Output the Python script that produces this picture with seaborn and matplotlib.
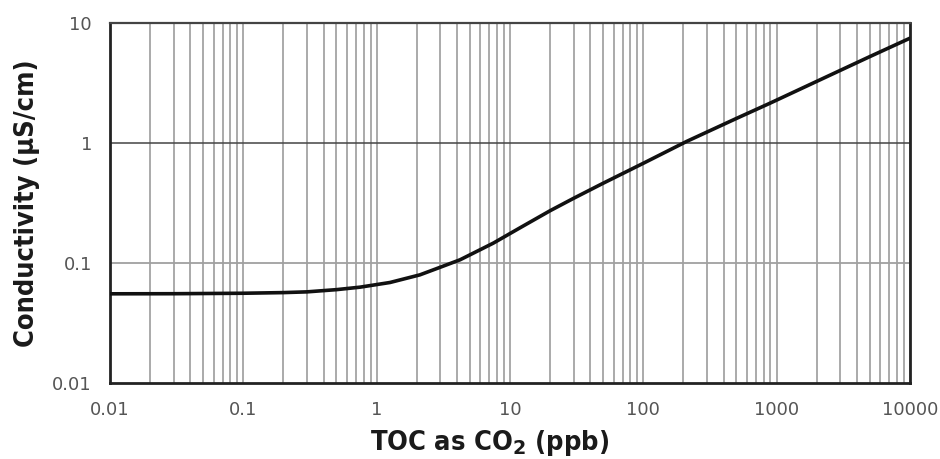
import matplotlib
matplotlib.use("Agg")
import matplotlib.pyplot as plt
import numpy as np
import pandas as pd
import seaborn as sns
from matplotlib.ticker import FixedLocator, LogLocator, NullFormatter


# 1. Donnees
toc_ppb = [0.01, 0.03, 0.1, 0.2, 0.3, 0.5, 0.75, 1.26, 2.11, 3, 4.22, 7.5,
           11.9, 20, 30, 50, 100, 212, 500, 890, 2110, 5000, 10000]
conductivity = [0.0552, 0.0553, 0.0558, 0.0565, 0.0573, 0.0598, 0.0627, 0.0686,
                0.0794, 0.0919, 0.106, 0.146, 0.196, 0.272, 0.345, 0.461,
                0.676, 1.03, 1.6, 2.14, 3.35, 5.24, 7.46]

x_ticks = [0.01, 0.1, 1, 10, 100, 1000, 10000]
x_tick_labels = ["0.01", "0.1", "1", "10", "100", "1000", "10000"]
y_ticks = [0.01, 0.1, 1, 10]
y_tick_labels = ["0.01", "0.1", "1", "10"]

df = pd.DataFrame({"toc": toc_ppb, "cond": conductivity})


# 2. Style
sns.set_style("white")
plt.rcParams["font.family"] = ["DejaVu Sans"]
plt.rcParams["mathtext.fontset"] = "custom"
plt.rcParams["mathtext.rm"] = "DejaVu Sans:bold"
plt.rcParams["mathtext.default"] = "rm"

label_font = {"family": ["DejaVu Sans"], "stretch": "condensed",
              "weight": "bold", "size": 19.5, "color": "#1a1a1a"}


# 3. Figure
fig = plt.figure(figsize=(9.4, 4.59), dpi=100)
ax = fig.add_axes([0.117, 0.166, 0.851, 0.784])

ax.set_xscale("log")
ax.set_yscale("log")
ax.set_xlim(0.01, 10000)
ax.set_ylim(0.01, 10)

# grille verticale : toutes les lignes log (majeures + mineures)
ax.xaxis.set_minor_locator(LogLocator(base=10, subs=np.arange(2, 10), numticks=100))
ax.xaxis.set_minor_formatter(NullFormatter())
ax.grid(True, which="both", axis="x", color="#939393", linewidth=1.1)
ax.yaxis.set_minor_locator(FixedLocator([]))
ax.axhline(1, color="#444444", linewidth=1.1, zorder=1)
ax.axhline(0.1, color="#a0a0a0", linewidth=1.3, zorder=1)

sns.lineplot(data=df, x="toc", y="cond", ax=ax, color="#111111",
             linewidth=2.6, zorder=5)

ax.set_xticks(x_ticks)
ax.set_xticklabels(x_tick_labels)
ax.set_yticks(y_ticks)
ax.set_yticklabels(y_tick_labels)
ax.tick_params(axis="both", which="major", length=5, width=1.2, color="#333333",
               labelsize=13, labelcolor="#555555", pad=8)
ax.tick_params(axis="x", which="minor", length=0)

for side in ["left", "bottom", "right"]:
    ax.spines[side].set_linewidth(2.0)
    ax.spines[side].set_color("#222222")
ax.spines["top"].set_linewidth(1.6)
ax.spines["top"].set_color("#444444")

ax.set_xlabel("TOC as CO$_2$ (ppb)", fontdict=label_font)
ax.xaxis.set_label_coords(0.475, -0.125)
ax.set_ylabel("Conductivity (\u00b5S/cm)", fontdict=label_font, labelpad=9)

fig.savefig("out.png", dpi=100)
